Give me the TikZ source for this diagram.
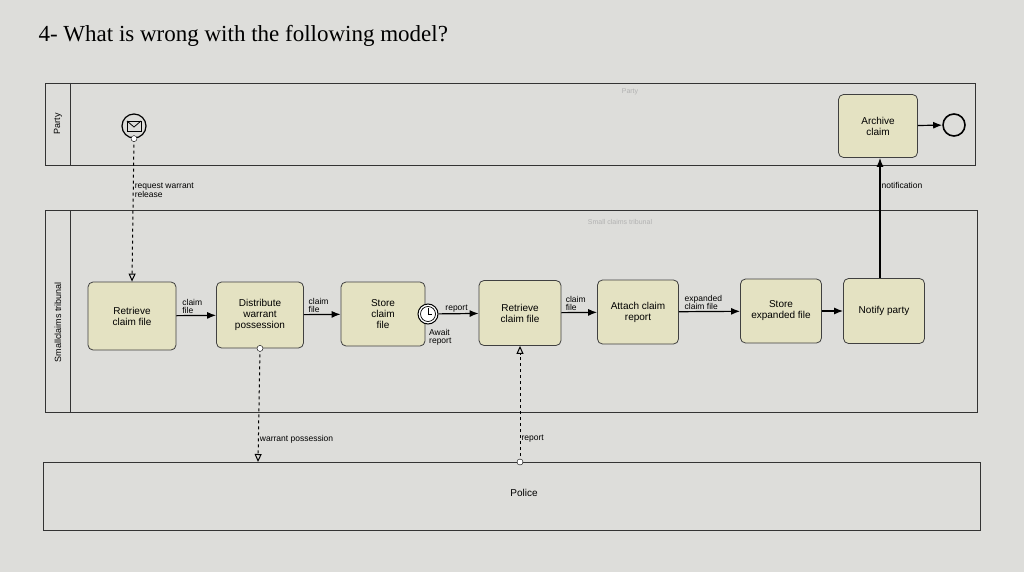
\documentclass[tikz,border=0pt]{standalone}
\usepackage{fontspec}
\setsansfont{Liberation Sans}
\newfontfamily\titlefont{Liberation Serif}
\usetikzlibrary{arrows.meta}
\definecolor{bg}{HTML}{DDDDDA}
\definecolor{taskfill}{HTML}{E4E2C2}
\begin{document}
\begin{tikzpicture}[x=1pt,y=-1pt,
  task/.style={draw=black!75,fill=taskfill,rounded corners=5pt,minimum width=84pt,minimum height=64pt,align=center,font=\sffamily\fontsize{10}{11}\selectfont,line width=0.8pt},
  pool/.style={draw=black!80,line width=0.7pt},
  seq/.style={-{Latex[length=9pt,width=7pt]},line width=1.2pt},
  msg/.style={dashed,line width=1pt,-{Triangle[open,length=8pt,width=7pt]}},
  lbl/.style={font=\sffamily\fontsize{8.5}{8.5}\selectfont,align=left,inner sep=1pt},
  evt/.style={circle,draw,line width=1.2pt,fill=bg,minimum size=24pt,inner sep=0pt}]
\fill[bg] (0,0) rectangle (1024,572);
\useasboundingbox (0,0) rectangle (1024,572);
\node[anchor=west,font=\titlefont\fontsize{23}{25}\selectfont] (title) at (35,36) {4- What is wrong with the following model?};
% pools
\draw[pool] (45,83) rectangle (975,165);
\draw[pool] (70,83) -- (70,165);
\node[rotate=90,font=\sffamily\fontsize{9}{9}\selectfont] (partylbl) at (58,124) {Party};
\node[font=\sffamily\fontsize{7}{7}\selectfont,text=black!30] (partyfaint) at (630,92) {Party};
\draw[pool] (45,210) rectangle (977,412);
\draw[pool] (70,210) -- (70,412);
\node[rotate=90,font=\sffamily\fontsize{9}{9}\selectfont] (scl) at (58,322) {Smallclaims tribunal};
\node[font=\sffamily\fontsize{7}{7}\selectfont,text=black!30] (sctfaint) at (620,222) {Small claims tribunal};
\draw[pool] (43,462) rectangle (980,530);
\node[font=\sffamily\fontsize{10}{10}\selectfont] (police) at (524,493) {Police};
\coordinate (pol1) at (258,462);
\coordinate (pol2) at (520,462);
% tasks
\node[task,minimum width=88pt,minimum height=68pt] (t1) at (132,316) {Retrieve\\claim file};
\node[task,minimum width=87pt,minimum height=66pt] (t2) at (260,315) {Distribute\\warrant\\possession};
\node[task] (t3) at (383,314) {Store\\claim\\file};
\node[task,minimum width=82pt,minimum height=65pt] (t4) at (520,313) {Retrieve\\claim file};
\node[task,minimum width=81pt] (t5) at (638,312) {Attach claim\\report};
\node[task,minimum width=81pt] (t6) at (781,311) {Store\\expanded file};
\node[task,minimum width=81pt,minimum height=65pt] (t7) at (884,311) {Notify party};
\node[task,minimum width=79pt,minimum height=63pt] (t8) at (878,126) {Archive\\claim};
% events
\node[evt] (start) at (134,126) {};
\draw[line width=0.8pt] (127,121) rectangle (141,131);
\draw[line width=0.8pt] (127,121) -- (134,127) -- (141,121);
\node[circle,draw,line width=1.6pt,minimum size=22pt,inner sep=0pt,fill=bg] (end) at (954,125) {};
\node[circle,draw,line width=1pt,fill=white,minimum size=20pt,inner sep=0pt] (timer) at (428,314) {};
\node[circle,draw,line width=0.7pt,minimum size=15pt,inner sep=0pt] (timerin) at (428,314) {};
\draw[line width=0.7pt] (428,308) -- (428,314) -- (432,314);
\node[lbl,anchor=north west] (await) at (428,328) {Await\\report};
% sequence flows
\draw[seq] (t1) -- node[lbl,above,pos=0.4] {claim\\file} (t2);
\draw[seq] (t2) -- node[lbl,above,pos=0.4] {claim\\file} (t3);
\draw[seq] (timer) -- node[lbl,above,pos=0.45] {report} (t4);
\draw[seq] (t4) -- node[lbl,above,pos=0.4] {claim\\file} (t5);
\draw[seq] (t5) -- node[lbl,above,pos=0.4] {expanded\\claim file} (t6);
\draw[seq] (t6) -- (t7);
\draw[seq] (t8) -- (end);
\draw[seq] (t7.north -| 880,0) -- node[lbl,right,pos=0.77] {notification} (t8.south -| 880,0);
% message flows
\draw[msg] (start.south) -- node[lbl,right,pos=0.36] {request warrant\\release} (t1.north);
\node[circle,draw,fill=white,inner sep=0pt,minimum size=6pt] at (start.south) {};
\draw[msg] (t2.south) -- node[lbl,right,pos=0.8] {warrant possession} (pol1);
\node[circle,draw,fill=white,inner sep=0pt,minimum size=6pt] at (t2.south) {};
\draw[msg] (pol2) -- node[lbl,right,pos=0.2] {report} (t4.south);
\node[circle,draw,fill=white,inner sep=0pt,minimum size=6pt] at (pol2) {};
\end{tikzpicture}
\end{document}
